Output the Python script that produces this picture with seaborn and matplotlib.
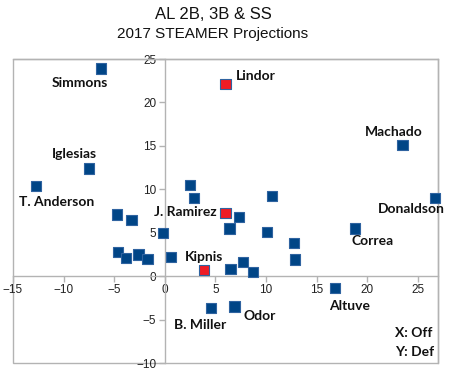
import matplotlib
matplotlib.use('Agg')
import matplotlib.pyplot as plt
import matplotlib.patches as mpatches
import seaborn as sns
import pandas as pd

# ---------------- Data (X: offense, Y: defense) ----------------
names = ['Simmons', 'Lindor', 'Iglesias', 'Machado', 'T. Anderson', '', '', '',
         'Donaldson', 'J. Ramirez', '', '', '', '', '', '', 'Correa', '',
         '', '', '', '', '', '', '', 'Kipnis', '', '', 'Altuve', 'B. Miller', 'Odor']
off = [-6.3, 6.0, -7.5, 23.5, -12.7, 2.5, 2.9, 10.6,
       26.7, 6.0, -4.7, -3.3, 7.3, 6.4, -0.2, 10.1, 18.8, 12.8,
       -4.6, -3.8, -2.6, -1.7, 0.6, 12.9, 7.7, 3.9, 6.5, 8.7, 16.8, 4.6, 6.9]
dfn = [23.9, 22.1, 12.4, 15.1, 10.4, 10.5, 9.0, 9.2,
       9.0, 7.3, 7.1, 6.5, 6.8, 5.5, 5.0, 5.1, 5.5, 3.8,
       2.8, 2.1, 2.5, 2.0, 2.2, 1.9, 1.6, 0.7, 0.8, 0.5, -1.4, -3.7, -3.5]
highlight = ['no', 'yes', 'no', 'no', 'no', 'no', 'no', 'no',
             'no', 'yes', 'no', 'no', 'no', 'no', 'no', 'no', 'no', 'no',
             'no', 'no', 'no', 'no', 'no', 'no', 'no', 'yes', 'no', 'no', 'no', 'no', 'no']

# label offsets in pixels (dx, dy) from marker
label_offsets = {
    'Simmons': (-21, -14), 'Lindor': (30, 8), 'Iglesias': (-14, 14),
    'Machado': (-9, 13), 'T. Anderson': (20, -16), 'Donaldson': (-24, -11),
    'J. Ramirez': (-40, 1), 'Correa': (18, -13), 'Kipnis': (0, 13),
    'Altuve': (15, -18), 'B. Miller': (-11, -17), 'Odor': (25, -9),
}

df = pd.DataFrame({'name': names, 'Off': off, 'Def': dfn, 'hl': highlight})

sns.set_style('white')
plt.rcParams['font.family'] = ['Liberation Sans', 'DejaVu Sans']

fig = plt.figure(figsize=(4.53, 3.83), dpi=100)
ax = fig.add_axes([13 / 453, 20 / 383, 425 / 453, 304 / 383])

sns.scatterplot(data=df, x='Off', y='Def', hue='hl',
                palette={'no': '#004586', 'yes': '#ee1c25'},
                marker='s', s=55, edgecolor='#2f63a0', linewidth=0.8,
                legend=False, ax=ax, zorder=3, clip_on=False)

for _, r in df.iterrows():
    if r['name']:
        dx, dy = label_offsets[r['name']]
        ax.annotate(r['name'], (r['Off'], r['Def']), xytext=(dx, dy),
                    textcoords='offset pixels', ha='center', va='center',
                    fontsize=10, fontweight='bold', family=['Lato', 'DejaVu Sans'],
                    color='#111111', zorder=4)

ax.set_xlim(-15, 27)
ax.set_ylim(-10, 25)
ax.set_xticks(range(-15, 26, 5))
ax.set_yticks(range(-10, 26, 5))
ax.set_xlabel('')
ax.set_ylabel('')

gray = '#b3b3b3'
ax.spines['left'].set_position(('data', 0))
ax.spines['bottom'].set_position(('data', 0))
for sp in ax.spines.values():
    sp.set_color(gray)
    sp.set_linewidth(1.0)
ax.add_patch(mpatches.Rectangle((0, 0), 1, 1, transform=ax.transAxes, fill=False,
                                edgecolor=gray, linewidth=1.0, zorder=0, clip_on=False))
ax.tick_params(direction='out', length=4, width=1, color=gray, labelsize=8.5,
               labelcolor='#222222', pad=2, bottom=True, left=True)

fig.text(213 / 453, 1 - 19 / 383, 'AL 2B, 3B & SS', ha='center', va='baseline',
         fontsize=12, color='#111111')
fig.text(213 / 453, 1 - 37.7 / 383, '2017 STEAMER Projections', ha='center',
         va='baseline', fontsize=11, color='#111111')
fig.text(395 / 453, 1 - 333 / 383, 'X: Off', ha='left', va='center', fontsize=10,
         fontweight='bold', family=['Lato', 'DejaVu Sans'], color='#111111')
fig.text(395 / 453, 1 - 351.5 / 383, 'Y: Def', ha='left', va='center', fontsize=10,
         fontweight='bold', family=['Lato', 'DejaVu Sans'], color='#111111')

fig.savefig('out.png', dpi=100, facecolor='white')
